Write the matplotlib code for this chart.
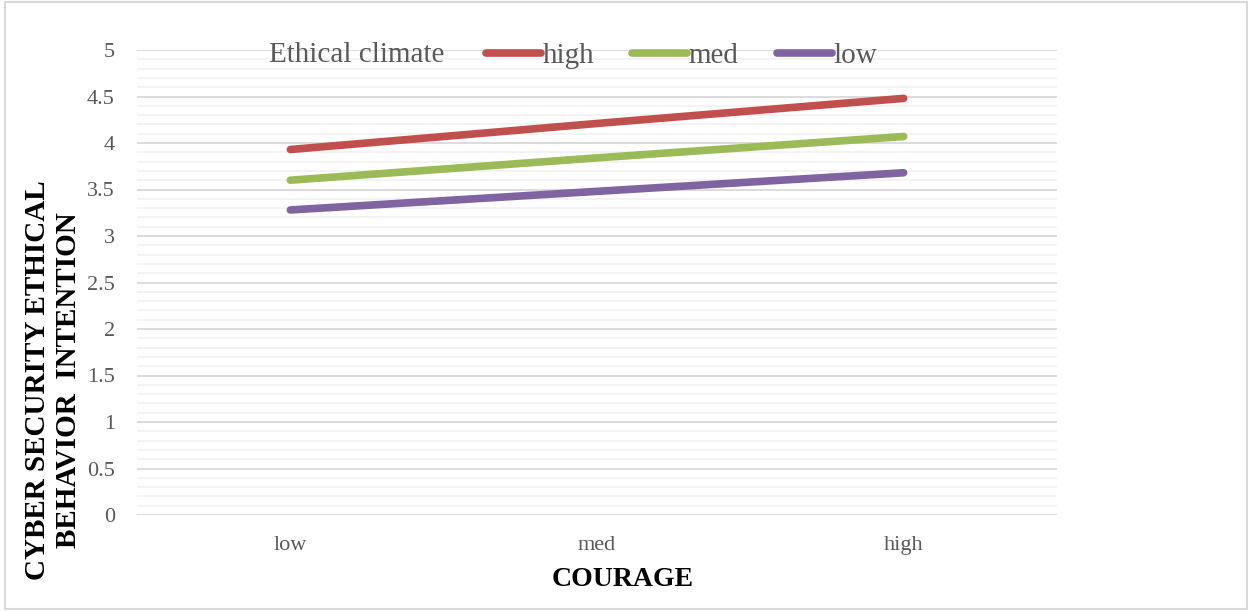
import matplotlib.pyplot as plt
from matplotlib.ticker import MultipleLocator, FuncFormatter

courage = ['low', 'med', 'high']
high = [3.93, 4.21, 4.48]
med = [3.60, 3.84, 4.07]
low = [3.28, 3.48, 3.68]
series_names = ['high', 'med', 'low']
colors = ['#C0504D', '#9BBB59', '#8064A2']

plt.rcParams['font.family'] = ['Liberation Serif', 'DejaVu Serif']

fig = plt.figure(figsize=(12.52, 6.11), dpi=100)
ax = fig.add_axes([137 / 1252, 1 - 515 / 611, 920 / 1252, 465 / 611])

x = range(len(courage))
lines = []
for vals, name, c in zip([high, med, low], series_names, colors):
    ln, = ax.plot(x, vals, color=c, lw=5.5, solid_capstyle='round', label=name)
    lines.append(ln)

ax.set_xlim(-0.5, 2.5)
ax.set_ylim(0, 5)
ax.set_xticks(list(x))
ax.set_xticklabels(courage)
ax.yaxis.set_major_locator(MultipleLocator(0.5))
ax.yaxis.set_minor_locator(MultipleLocator(0.1))
ax.yaxis.set_major_formatter(FuncFormatter(lambda v, p: '%g' % round(v, 1)))
ax.grid(which='major', axis='y', color='#D9D9D9', lw=1.3)
ax.grid(which='minor', axis='y', color='#F2F2F2', lw=1.3)
ax.set_axisbelow(True)
for s in ax.spines.values():
    s.set_visible(False)
ax.tick_params(axis='both', which='both', length=0, labelsize=16, colors='#595959', pad=15)
ax.tick_params(axis='y', pad=16)

fig.text(623 / 1252, 1 - 580 / 611, 'COURAGE', ha='center', va='center',
         fontsize=20, fontweight='bold')
fig.text(53 / 1252, 1 - 380 / 611, 'CYBER SECURITY ETHICAL\nBEHAVIOR  INTENTION',
         ha='center', va='center', rotation=90, fontsize=21, fontweight='bold',
         linespacing=1.15)

fig.text(357 / 1252, 1 - 55 / 611, 'Ethical climate', ha='center', va='center',
         fontsize=21, color='#595959')
fig.legend(handles=lines, loc='center left', bbox_to_anchor=(471 / 1252, 1 - 56 / 611),
           ncol=3, frameon=False, fontsize=21, labelcolor='#595959',
           handlelength=1.9, handleheight=0.55, handletextpad=0.05,
           columnspacing=1.3, borderpad=0)

border = plt.Rectangle((0.004, 0.004), 0.992, 0.992, transform=fig.transFigure,
                       fill=False, edgecolor='#D9D9D9', lw=1.5)
fig.patches.append(border)

fig.savefig('out.png', dpi=100)
